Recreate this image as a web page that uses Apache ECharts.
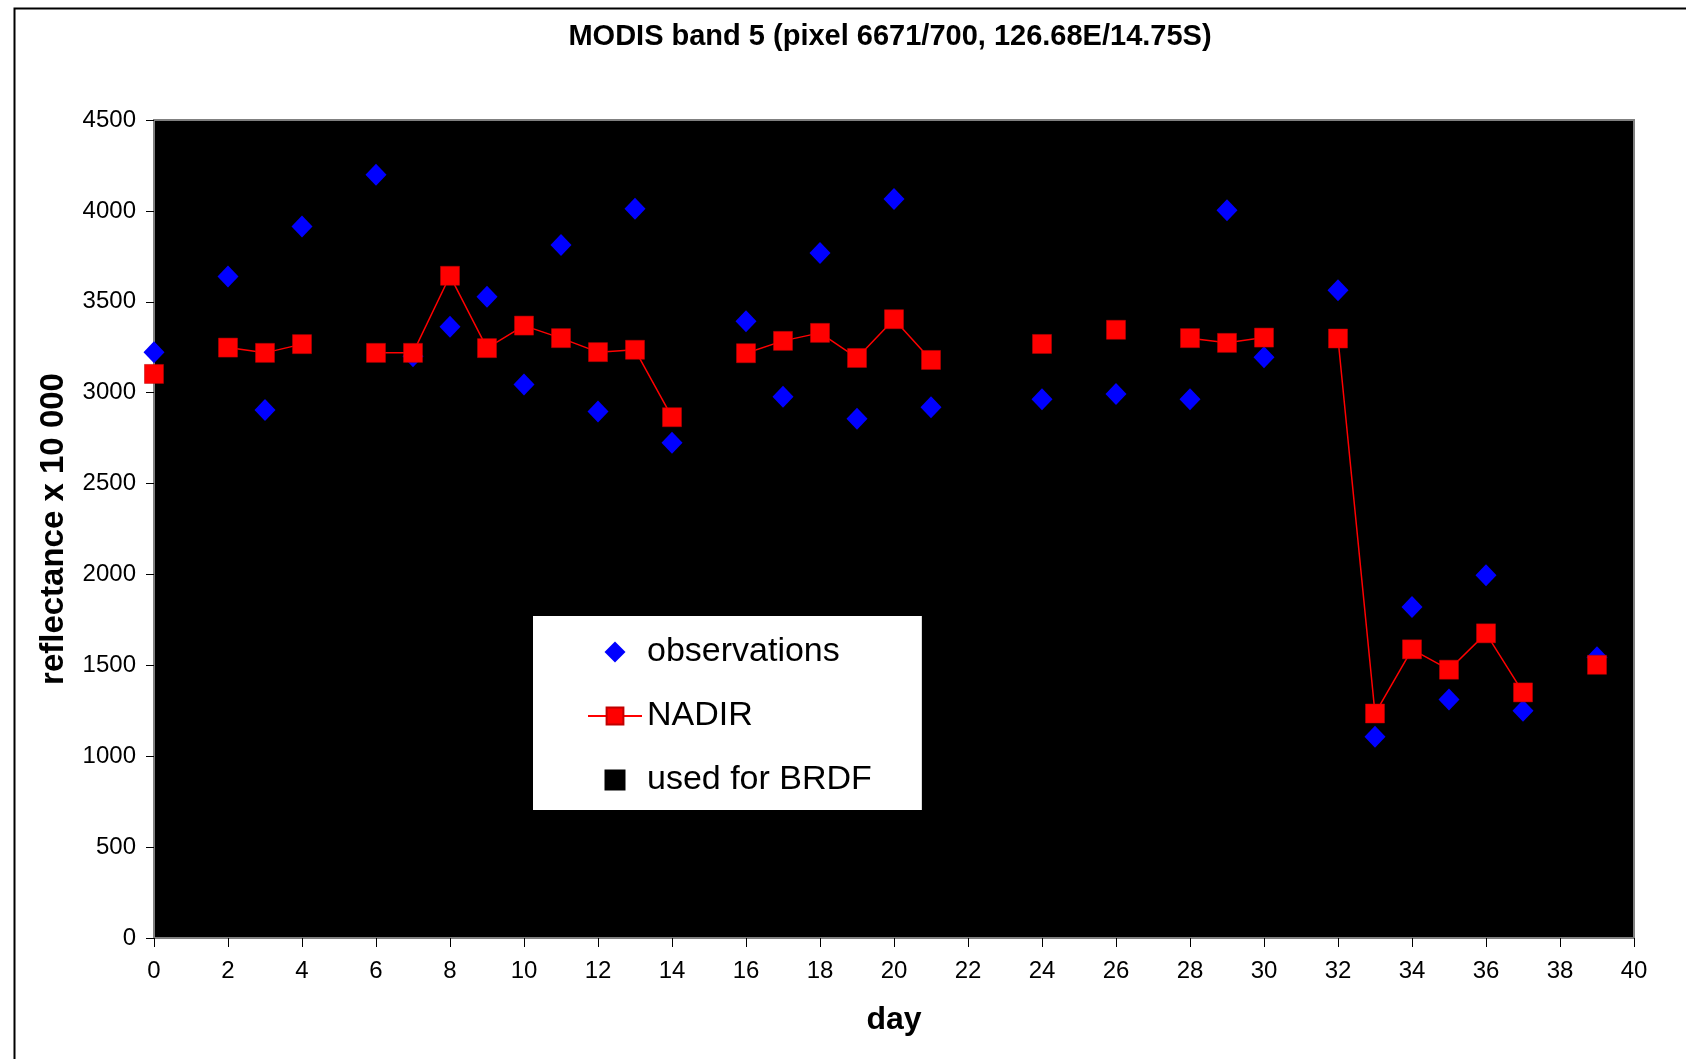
<!DOCTYPE html>
<html>
<head>
<meta charset="utf-8">
<script src="https://cdn.jsdelivr.net/npm/echarts@6/dist/echarts.min.js"></script>
<style>
html,body{margin:0;padding:0;background:#fff;}
#chart{width:1686px;height:1059px;}
</style>
</head>
<body>
<div id="chart"></div>
<script>
// ---- data ----
const chartTitle = 'MODIS band 5 (pixel 6671/700, 126.68E/14.75S)';
const xAxisTitle = 'day';
const yAxisTitle = 'reflectance x 10 000';
const seriesNames = ['observations', 'NADIR', 'used for BRDF'];

const obsDays = [0, 2, 3, 4, 6, 7, 8, 9, 10, 11, 12, 13, 14, 16, 17, 18, 19, 20, 21, 24, 26, 28, 29, 30, 32, 33, 34, 35, 36, 37, 39];
const obsValues = [3222, 3639, 2905, 3914, 4199, 3200, 3362, 3527, 3045, 3812, 2896, 4012, 2725, 3393, 2978, 3768, 2857, 4065, 2920, 2964, 2993, 2964, 4003, 3195, 3564, 1107, 1821, 1312, 1995, 1250, 1545];

const nadirDays = [0, 1, 2, 3, 4, 5, 6, 7, 8, 9, 10, 11, 12, 13, 14, 15, 16, 17, 18, 19, 20, 21, 22, 23, 24, 25, 26, 27, 28, 29, 30, 31, 32, 33, 34, 35, 36, 37, 38, 39];
const nadirValues = [3103, null, 3248, 3219, 3267, null, 3219, 3219, 3643, 3245, 3369, 3300, 3223, 3236, 2865, null, 3217, 3285, 3329, 3191, 3404, 3180, null, null, 3268, null, 3346, null, 3300, 3274, 3303, null, 3298, 1235, 1588, 1476, 1676, 1351, null, 1503];

const brdfDays = [];
const brdfValues = [];

const xMin = 0, xMax = 40, xStep = 2;
const yMin = 0, yMax = 4500, yStep = 500;

// ---- build ----
const obsData = obsDays.map((d, i) => [d, obsValues[i]]);
const nadirData = nadirDays.map((d, i) => [d, nadirValues[i] === null ? '-' : nadirValues[i]]);
const brdfData = brdfDays.map((d, i) => [d, brdfValues[i]]);

const FONT = "'Liberation Sans', Arial, sans-serif";

const chart = echarts.init(document.getElementById('chart'), null, {renderer: 'canvas'});
chart.setOption({
  backgroundColor: '#fff',
  animation: false,
  title: {
    text: chartTitle,
    left: 890,
    top: 22,
    textAlign: 'center',
    padding: 0,
    textStyle: {fontFamily: FONT, fontSize: 29, fontWeight: 'bold', color: '#000'}
  },
  graphic: [{
    type: 'rect',
    left: 12, top: 6,
    shape: {width: 1700, height: 1100},
    style: {fill: 'none', stroke: '#000', lineWidth: 2},
    silent: true,
    z: 0
  }],
  grid: {
    left: 154, top: 120, right: 52, bottom: 121,
    show: true,
    backgroundColor: '#000',
    borderColor: '#808080',
    borderWidth: 2,
    containLabel: false
  },
  legend: {
    orient: 'vertical',
    left: 533, top: 616,
    backgroundColor: '#fff',
    padding: [19, 50, 13, 54],
    itemWidth: 54,
    itemHeight: 21,
    itemGap: 30,
    selectedMode: false,
    symbolKeepAspect: true,
    textStyle: {fontFamily: FONT, fontSize: 34, color: '#000', lineHeight: 30},
    data: [
      {name: seriesNames[0], icon: 'path://M0,-1L1,0L0,1L-1,0Z', itemStyle: {color: '#0000FF', opacity: 1}},
      {name: seriesNames[1]},
      {name: seriesNames[2], icon: 'path://M0,0L1,0L1,1L0,1Z', itemStyle: {color: '#000'}}
    ]
  },
  xAxis: {
    type: 'value',
    min: xMin, max: xMax, interval: xStep,
    name: xAxisTitle,
    nameLocation: 'middle',
    nameGap: 66,
    nameTextStyle: {fontFamily: FONT, fontSize: 32, fontWeight: 'bold', color: '#000'},
    axisLine: {show: true, onZero: false, lineStyle: {color: '#808080', width: 2}},
    axisTick: {show: true, inside: false, length: 9, lineStyle: {color: '#000', width: 1}},
    axisLabel: {fontFamily: FONT, fontSize: 24, color: '#000', margin: 21, formatter: v => String(v)},
    splitLine: {show: false}
  },
  yAxis: {
    type: 'value',
    min: yMin, max: yMax, interval: yStep,
    name: yAxisTitle,
    nameLocation: 'middle',
    nameRotate: 90,
    nameGap: 84,
    nameTextStyle: {fontFamily: FONT, fontSize: 33, fontWeight: 'bold', color: '#000'},
    axisLine: {show: true, onZero: false, lineStyle: {color: '#808080', width: 2}},
    axisTick: {show: true, inside: false, length: 8, lineStyle: {color: '#000', width: 1}},
    axisLabel: {fontFamily: FONT, fontSize: 24, color: '#000', margin: 18, formatter: v => String(v)},
    splitLine: {show: false}
  },
  series: [
    {
      name: seriesNames[0],
      type: 'scatter',
      data: obsData,
      symbol: 'diamond',
      symbolSize: [21, 22],
      itemStyle: {color: '#0000FF', opacity: 1},
      z: 2
    },
    {
      name: seriesNames[1],
      type: 'line',
      data: nadirData,
      connectNulls: false,
      symbol: 'rect',
      symbolSize: 19,
      showAllSymbol: true,
      lineStyle: {color: '#FF0000', width: 1.5},
      itemStyle: {color: '#FF0000', borderColor: '#C00000', borderWidth: 0.5},
      z: 3
    },
    {
      name: seriesNames[2],
      type: 'scatter',
      data: brdfData,
      symbol: 'rect',
      symbolSize: 13,
      itemStyle: {color: '#000', opacity: 1},
      z: 4
    }
  ]
});
</script>
</body>
</html>
